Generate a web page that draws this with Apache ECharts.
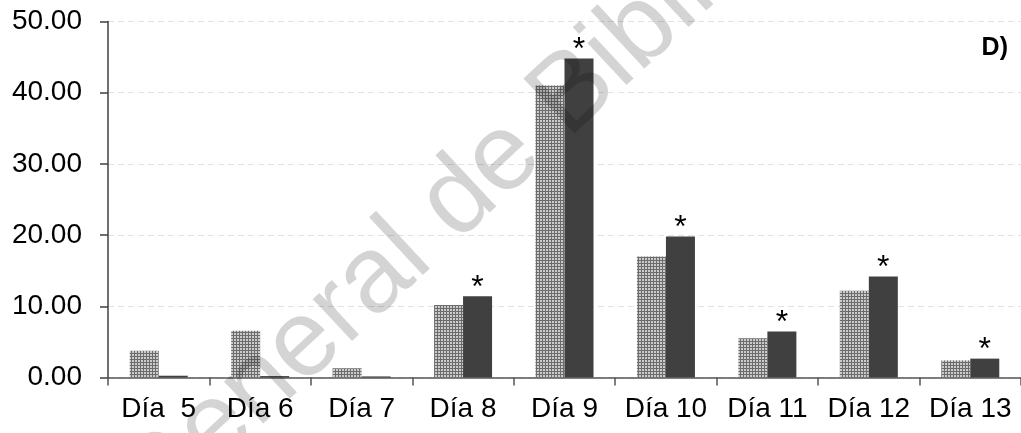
<!DOCTYPE html>
<html>
<head>
<meta charset="utf-8">
<script src="https://cdn.jsdelivr.net/npm/echarts@6/dist/echarts.min.js"></script>
<style>
  html, body { margin: 0; padding: 0; background: #ffffff; }
  #chart { width: 1021px; height: 433px; }
</style>
</head>
<body>
<div id="chart"></div>
<script>
// Day categories along the x axis
const categories = ['Día  5', 'Día 6', 'Día 7', 'Día 8', 'Día 9', 'Día 10', 'Día 11', 'Día 12', 'Día 13'];
// First (dotted) series per day
const seriesA = [3.75, 6.55, 1.3, 10.2, 41.0, 17.0, 5.5, 12.2, 2.4];
// Second (dark) series per day
const seriesB = [0.25, 0.2, 0.15, 11.4, 44.8, 19.8, 6.45, 14.2, 2.65];
// Significance markers above the dark bars
const marks = ['', '', '', '*', '*', '*', '*', '*', '*'];
// Value axis ticks
const yTicks = [0, 10, 20, 30, 40, 50];
const panelTag = 'D)';
const watermark = 'Dirección General de Bibliotecas';

// Fine dotted fill for the light bars
function dotPattern() {
  const c = document.createElement('canvas');
  c.width = 3; c.height = 3;
  const g = c.getContext('2d');
  g.fillStyle = '#6c6c6c';
  g.fillRect(0, 0, 3, 3);
  g.fillStyle = '#cbcbcb';
  g.fillRect(0, 0, 2, 2);
  return c;
}

const chart = echarts.init(document.getElementById('chart'), null, { renderer: 'canvas' });
const font = '"Liberation Sans", Arial, sans-serif';

chart.setOption({
  animation: false,
  backgroundColor: '#ffffff',
  grid: { left: 108, right: -2, top: 21.5, bottom: 55.5, containLabel: false },
  xAxis: {
    type: 'category',
    data: categories,
    axisLine: { lineStyle: { color: '#555555', width: 1.5 } },
    axisTick: { show: true, length: 8, alignWithLabel: false, lineStyle: { color: '#555555', width: 1.5 } },
    axisLabel: { color: '#000000', fontSize: 28, fontFamily: font, margin: 18, interval: 0 }
  },
  yAxis: {
    type: 'value',
    min: yTicks[0],
    max: yTicks[yTicks.length - 1],
    interval: 10,
    axisLine: { show: true, lineStyle: { color: '#404040', width: 1.5 } },
    axisTick: { show: true, length: 8, inside: false, lineStyle: { color: '#404040', width: 1.5 } },
    axisLabel: {
      color: '#000000', fontSize: 28, fontFamily: font, margin: 26,
      formatter: v => v.toFixed(2)
    },
    splitLine: { show: true, lineStyle: { color: '#e2e2e2', type: [6, 4], width: 1 } }
  },
  series: [
    {
      type: 'bar',
      data: seriesA,
      barWidth: 29,
      barGap: '0%',
      itemStyle: { color: { image: dotPattern(), repeat: 'repeat' } }
    },
    {
      type: 'bar',
      data: seriesB,
      barWidth: 29,
      barGap: '0%',
      itemStyle: { color: '#404040' },
      label: {
        show: true,
        position: 'top',
        distance: 0,
        offset: [0, 8],
        color: '#000000',
        fontSize: 32,
        fontFamily: font,
        formatter: p => marks[p.dataIndex]
      }
    }
  ],
  graphic: [
    {
      type: 'text',
      right: 13,
      top: 36,
      style: { text: panelTag, fill: '#000000', font: 'bold 25px ' + font }
    },
    {
      type: 'text',
      x: 131,
      y: 506,
      rotation: 43 * Math.PI / 180,
      z: 100,
      silent: true,
      style: {
        text: watermark.split(' ').slice(1).join(' '),
        fill: 'rgba(0,0,0,0.17)',
        font: '109px ' + font,
        textAlign: 'left',
        textVerticalAlign: 'middle'
      }
    }
  ]
});
</script>
</body>
</html>
